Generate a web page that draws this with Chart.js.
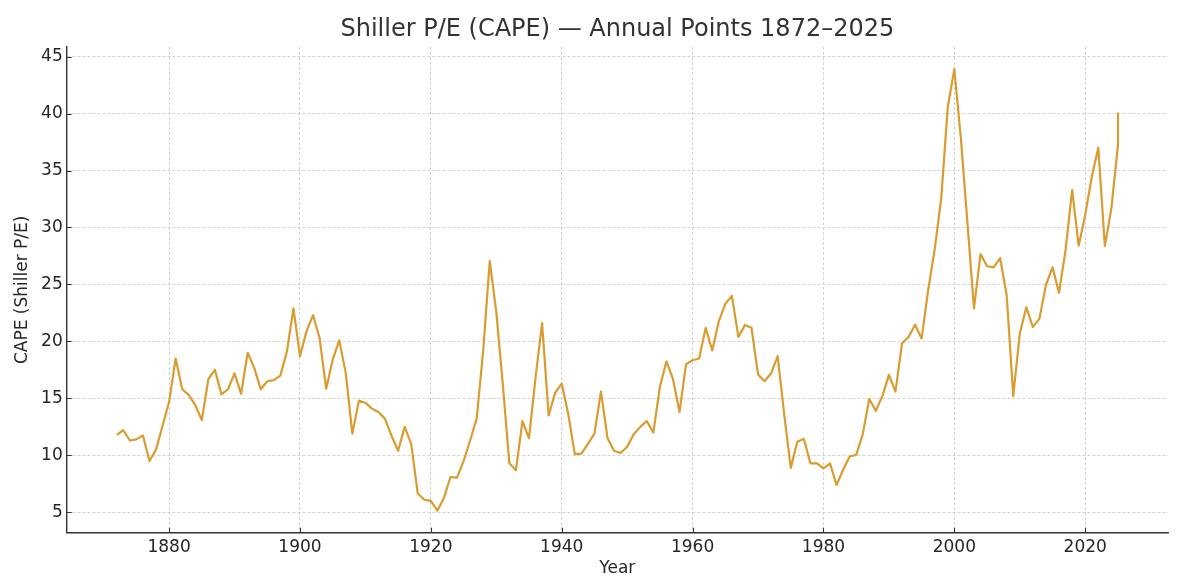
<!DOCTYPE html>
<html>
<head>
<meta charset="utf-8">
<script src="https://cdn.jsdelivr.net/npm/chart.js@4.4.1/dist/chart.umd.min.js"></script>
<style>
  html, body { margin: 0; padding: 0; background: #ffffff; }
  #wrap { width: 1200px; height: 579px; }
</style>
</head>
<body>
<div id="wrap"><canvas id="c" width="1200" height="579"></canvas></div>
<script>
// ---- Data ----
const years = [
  1872,1873,1874,1875,1876,1877,1878,1879,1880,1881,1882,1883,1884,1885,1886,1887,1888,1889,1890,1891,
  1892,1893,1894,1895,1896,1897,1898,1899,1900,1901,1902,1903,1904,1905,1906,1907,1908,1909,1910,1911,
  1912,1913,1914,1915,1916,1917,1918,1919,1920,1921,1922,1923,1924,1925,1926,1927,1928,1929,1930,1931,
  1932,1933,1934,1935,1936,1937,1938,1939,1940,1941,1942,1943,1944,1945,1946,1947,1948,1949,1950,1951,
  1952,1953,1954,1955,1956,1957,1958,1959,1960,1961,1962,1963,1964,1965,1966,1967,1968,1969,1970,1971,
  1972,1973,1974,1975,1976,1977,1978,1979,1980,1981,1982,1983,1984,1985,1986,1987,1988,1989,1990,1991,
  1992,1993,1994,1995,1996,1997,1998,1999,2000,2001,2002,2003,2004,2005,2006,2007,2008,2009,2010,2011,
  2012,2013,2014,2015,2016,2017,2018,2019,2020,2021,2022,2023,2024,2025,2025
];
const cape = [
  11.8,12.2,11.3,11.4,11.75,9.5,10.5,12.6,14.7,18.5,15.8,15.3,14.4,13.1,16.7,17.5,15.35,15.8,17.2,15.4,
  19.0,17.7,15.8,16.5,16.6,17.0,19.1,22.9,18.7,20.9,22.3,20.3,15.85,18.4,20.1,17.2,11.9,14.8,14.6,14.1,
  13.8,13.2,11.7,10.4,12.5,11.0,6.65,6.1,6.0,5.15,6.26,8.1,8.05,9.5,11.3,13.2,19.2,27.07,22.6,16.2,
  9.3,8.7,13.0,11.5,16.85,21.6,13.5,15.5,16.3,13.6,10.1,10.15,11.0,11.9,15.6,11.5,10.4,10.2,10.75,11.85,
  12.5,13.0,12.0,16.0,18.25,16.7,13.8,18.0,18.35,18.5,21.2,19.2,21.75,23.3,24.0,20.4,21.45,21.2,17.1,16.5,
  17.2,18.7,13.6,8.9,11.2,11.45,9.3,9.3,8.86,9.3,7.4,8.74,9.9,10.04,11.85,14.95,13.9,15.2,17.06,15.6,
  19.83,20.38,21.46,20.26,24.5,28.1,32.6,40.6,43.9,37.8,30.4,22.9,27.67,26.6,26.5,27.3,24.05,15.2,20.7,23.0,
  21.25,22.0,24.96,26.5,24.26,28.03,33.3,28.4,31.1,34.45,37.0,28.36,31.7,37.2,40.1
];
const xTicks = [1880,1900,1920,1940,1960,1980,2000,2020];
const yTicks = [5,10,15,20,25,30,35,40,45];
const titleText = 'Shiller P/E (CAPE) \u2014 Annual Points 1872\u20132025';
const xLabel = 'Year';
const yLabel = 'CAPE (Shiller P/E)';

const points = years.map((y, i) => ({ x: y, y: cape[i] }));

Chart.defaults.font.family = "'DejaVu Sans', sans-serif";
Chart.defaults.color = '#262626';

// Title + inward tick marks (matplotlib style)
const decorPlugin = {
  id: 'mplDecor',
  afterDraw(chart) {
    const { ctx, chartArea, scales } = chart;
    ctx.save();
    ctx.font = "24px 'DejaVu Sans', sans-serif";
    ctx.fillStyle = '#333333';
    ctx.textAlign = 'center';
    ctx.textBaseline = 'middle';
    ctx.fillText(titleText, (chartArea.left + chartArea.right) / 2, 30);

    ctx.strokeStyle = '#333333';
    ctx.lineWidth = 1.1;
    ctx.beginPath();
    xTicks.forEach(v => {
      const px = Math.round(scales.x.getPixelForValue(v)) + 0.5;
      ctx.moveTo(px, chartArea.bottom);
      ctx.lineTo(px, chartArea.bottom - 5);
    });
    yTicks.forEach(v => {
      const py = Math.round(scales.y.getPixelForValue(v)) + 0.5;
      ctx.moveTo(chartArea.left, py);
      ctx.lineTo(chartArea.left + 5, py);
    });
    ctx.stroke();
    ctx.restore();
  }
};

const gridOpts = { color: '#c6c6c6', lineWidth: 0.8, drawTicks: false };

new Chart(document.getElementById('c'), {
  type: 'line',
  data: {
    datasets: [{
      data: points,
      borderColor: '#D99C30',
      borderWidth: 2.2,
      pointRadius: 0,
      tension: 0,
      fill: false,
      borderJoinStyle: 'round'
    }]
  },
  options: {
    responsive: false,
    animation: false,
    devicePixelRatio: 1,
    layout: { padding: { left: 0, right: 32, top: 47, bottom: 0 } },
    plugins: { legend: { display: false }, tooltip: { enabled: false }, title: { display: false } },
    scales: {
      x: {
        type: 'linear',
        min: 1864.35,
        max: 2032.65,
        afterBuildTicks(s) { s.ticks = xTicks.map(v => ({ value: v })); },
        afterFit(s) { s.height = 46.3; },
        ticks: { callback: v => String(v), font: { size: 17 }, color: '#262626', padding: 5, maxRotation: 0, autoSkip: false },
        grid: gridOpts,
        border: { display: true, color: '#333333', width: 1.4, dash: [3, 2] },
        title: { display: true, text: xLabel, font: { size: 17 }, color: '#262626', padding: { top: 0, bottom: 0 } }
      },
      y: {
        type: 'linear',
        min: 3.21,
        max: 45.84,
        afterBuildTicks(s) { s.ticks = yTicks.map(v => ({ value: v })); },
        afterFit(s) { s.width = 66.7; },
        ticks: { callback: v => String(v), font: { size: 17 }, color: '#262626', padding: 4 },
        grid: gridOpts,
        border: { display: true, color: '#333333', width: 1.4, dash: [3, 2] },
        title: { display: true, text: yLabel, font: { size: 17 }, color: '#262626', padding: { top: 12, bottom: 0 } }
      }
    }
  },
  plugins: [decorPlugin]
});
</script>
</body>
</html>
